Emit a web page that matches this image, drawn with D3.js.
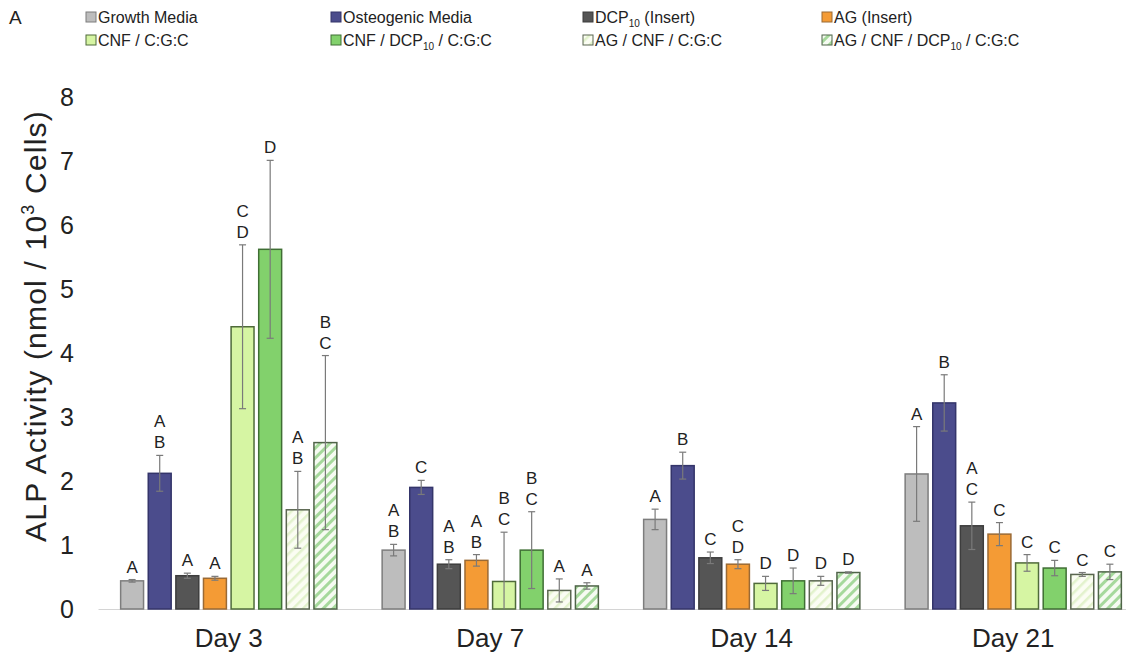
<!DOCTYPE html>
<html lang="en">
<head>
<meta charset="utf-8">
<title>ALP Activity</title>
<script src="https://d3js.org/d3.v7.min.js"></script>
<style>
  body { margin: 0; background: #fff; }
  svg { display: block; font-family: "Liberation Sans", Arial, sans-serif; }
</style>
</head>
<body>
<div id="chart"></div>
<script>
// categories and series
var days = ['Day 3', 'Day 7', 'Day 14', 'Day 21'];
var seriesNames = ['Growth Media', 'Osteogenic Media', 'DCP10 (Insert)', 'AG (Insert)',
  'CNF / C:G:C', 'CNF / DCP10 / C:G:C', 'AG / CNF / C:G:C', 'AG / CNF / DCP10 / C:G:C'];

// mean values per series (Day 3, 7, 14, 21)
var growthMedia = [0.44, 0.92, 1.40, 2.11];
var osteoMedia  = [2.12, 1.90, 2.24, 3.22];
var dcpInsert   = [0.52, 0.70, 0.80, 1.30];
var agInsert    = [0.48, 0.76, 0.70, 1.17];
var cnfCgc      = [4.41, 0.43, 0.40, 0.72];
var cnfDcpCgc   = [5.62, 0.92, 0.44, 0.64];
var agCnfCgc    = [1.55, 0.29, 0.44, 0.54];
var agCnfDcpCgc = [2.60, 0.36, 0.57, 0.58];

// standard deviations
var growthErr   = [0.02, 0.09, 0.16, 0.74];
var osteoErr    = [0.28, 0.11, 0.21, 0.44];
var dcpErr      = [0.04, 0.07, 0.09, 0.37];
var agErr       = [0.03, 0.09, 0.07, 0.18];
var cnfErr      = [1.28, 0.77, 0.11, 0.13];
var cnfDcpErr   = [1.39, 0.60, 0.20, 0.12];
var agCnfErr    = [0.60, 0.18, 0.07, 0.03];
var agCnfDcpErr = [1.36, 0.05, 0.01, 0.12];

// significance letters
var growthSig   = ['A', 'AB', 'A', 'A'];
var osteoSig    = ['AB', 'C', 'B', 'B'];
var dcpSig      = ['A', 'AB', 'C', 'AC'];
var agSig       = ['A', 'AB', 'CD', 'C'];
var cnfSig      = ['CD', 'BC', 'D', 'C'];
var cnfDcpSig   = ['D', 'BC', 'D', 'C'];
var agCnfSig    = ['AB', 'A', 'D', 'C'];
var agCnfDcpSig = ['BC', 'A', 'D', 'C'];

var yTicks = [0, 1, 2, 3, 4, 5, 6, 7, 8];

var allMeans = [growthMedia, osteoMedia, dcpInsert, agInsert, cnfCgc, cnfDcpCgc, agCnfCgc, agCnfDcpCgc];
var allErrs = [growthErr, osteoErr, dcpErr, agErr, cnfErr, cnfDcpErr, agCnfErr, agCnfDcpErr];
var allSigs = [growthSig, osteoSig, dcpSig, agSig, cnfSig, cnfDcpSig, agCnfSig, agCnfDcpSig];

var fills = ['#bdbdbd', '#4b4c8c', '#555555', '#f49b35', '#d6f5a3', '#82d16c', 'url(#hatchLight)', 'url(#hatchGreen)'];
var strokes = ['#7d7d7d', '#34356a', '#3d3d3d', '#9a6a35', '#4f6b3a', '#3f6e34', '#5a6650', '#4f6448'];

var w = 1126, h = 662;
var svg = d3.select('#chart').append('svg').attr('width', w).attr('height', h);

// hatch patterns
var defs = svg.append('defs');
var p1 = defs.append('pattern').attr('id', 'hatchLight').attr('patternUnits', 'userSpaceOnUse')
  .attr('width', 7).attr('height', 7).attr('patternTransform', 'rotate(45)');
p1.append('rect').attr('width', 7).attr('height', 7).attr('fill', '#fbfdf3');
p1.append('rect').attr('width', 2.5).attr('height', 7).attr('fill', '#e2f2cc');
var p2 = defs.append('pattern').attr('id', 'hatchGreen').attr('patternUnits', 'userSpaceOnUse')
  .attr('width', 7).attr('height', 7).attr('patternTransform', 'rotate(45)');
p2.append('rect').attr('width', 7).attr('height', 7).attr('fill', '#f6fbf2');
p2.append('rect').attr('width', 3).attr('height', 7).attr('fill', '#a6d99c');

// scales
var x0 = d3.scaleBand().domain(days).range([98, 1144]).padding(0);
var x1 = d3.scaleBand().domain(d3.range(seriesNames.length)).range([0, x0.bandwidth()])
  .paddingInner(0.17).paddingOuter(0.82);
var y = d3.scaleLinear().domain([0, 8]).range([609, 97]);

// y axis (labels only)
var yAxis = svg.append('g').attr('transform', 'translate(98,0)')
  .call(d3.axisLeft(y).tickValues(yTicks).tickSize(0).tickPadding(24));
yAxis.select('.domain').remove();
yAxis.selectAll('text').attr('font-size', 25).attr('fill', '#222')
  .attr('font-family', '"Liberation Sans", Arial, sans-serif');

// x axis
var xAxis = svg.append('g').attr('transform', 'translate(0,609)')
  .call(d3.axisBottom(x0).tickSize(0).tickPadding(20));
xAxis.select('.domain').attr('stroke', '#d4d4d4');
xAxis.selectAll('text').attr('font-size', 26).attr('fill', '#222')
  .attr('font-family', '"Liberation Sans", Arial, sans-serif');

// y title
svg.append('text')
  .attr('transform', 'translate(46,326) rotate(-90)')
  .attr('text-anchor', 'middle').attr('font-size', 30).attr('letter-spacing', 1.2).attr('fill', '#222')
  .call(function(t) {
    t.append('tspan').text('ALP Activity (nmol / 10');
    t.append('tspan').attr('font-size', 18).attr('dy', -12).text('3');
    t.append('tspan').attr('dy', 12).text(' Cells)');
  });

// bars
var groups = svg.selectAll('.day').data(days).enter().append('g')
  .attr('class', 'day').attr('transform', d => 'translate(' + x0(d) + ',0)');

groups.each(function(day, di) {
  var g = d3.select(this);
  var items = seriesNames.map((s, si) => ({
    si: si, v: allMeans[si][di], e: allErrs[si][di], sig: allSigs[si][di]
  }));

  g.selectAll('rect').data(items).enter().append('rect')
    .attr('x', d => x1(d.si))
    .attr('y', d => y(d.v))
    .attr('width', x1.bandwidth())
    .attr('height', d => y(0) - y(d.v))
    .attr('fill', d => fills[d.si])
    .attr('stroke', d => strokes[d.si])
    .attr('stroke-width', 1.5);

  // error bars
  var eb = g.selectAll('.err').data(items).enter().append('g').attr('class', 'err')
    .attr('stroke', '#7a7a7a').attr('stroke-width', 1.2);
  eb.append('line')
    .attr('x1', d => x1(d.si) + x1.bandwidth() / 2).attr('x2', d => x1(d.si) + x1.bandwidth() / 2)
    .attr('y1', d => y(Math.max(0, d.v - d.e))).attr('y2', d => y(d.v + d.e));
  eb.append('line')
    .attr('x1', d => x1(d.si) + x1.bandwidth() / 2 - 3.5).attr('x2', d => x1(d.si) + x1.bandwidth() / 2 + 3.5)
    .attr('y1', d => y(d.v + d.e)).attr('y2', d => y(d.v + d.e));
  eb.filter(d => d.v - d.e > 0).append('line')
    .attr('x1', d => x1(d.si) + x1.bandwidth() / 2 - 3.5).attr('x2', d => x1(d.si) + x1.bandwidth() / 2 + 3.5)
    .attr('y1', d => y(d.v - d.e)).attr('y2', d => y(d.v - d.e));

  // letters, stacked vertically
  items.forEach(function(d) {
    var letters = d.sig.split('');
    var cx = x1(d.si) + x1.bandwidth() / 2;
    var base = y(d.v + d.e) - 7;
    letters.forEach(function(ch, k) {
      g.append('text')
        .attr('x', cx).attr('y', base - (letters.length - 1 - k) * 21)
        .attr('text-anchor', 'middle').attr('font-size', 17).attr('fill', '#222')
        .text(ch);
    });
  });
});

// panel letter
svg.append('text').attr('x', 9).attr('y', 24).attr('font-size', 19).attr('fill', '#222').text('A');

// legend
var legendX = [86, 331, 583, 822];
var legendY = [17, 40];
function labelWithSub(t, name) {
  var parts = name.split('DCP10');
  t.append('tspan').text(parts[0]);
  if (parts.length > 1) {
    t.append('tspan').text('DCP');
    t.append('tspan').attr('font-size', 10).attr('dy', 4).text('10');
    t.append('tspan').attr('dy', -4).text(parts[1]);
  }
}
var legend = svg.selectAll('.leg').data(seriesNames).enter().append('g')
  .attr('class', 'leg')
  .attr('transform', (d, i) => 'translate(' + legendX[i % 4] + ',' + legendY[Math.floor(i / 4)] + ')');
legend.append('rect').attr('x', 0).attr('y', -5).attr('width', 10).attr('height', 10)
  .attr('fill', (d, i) => fills[i]).attr('stroke', (d, i) => strokes[i]).attr('stroke-width', 1);
legend.append('text').attr('x', 12).attr('y', 6).attr('font-size', 16).attr('fill', '#222')
  .each(function(d) { labelWithSub(d3.select(this), d); });
</script>
</body>
</html>
